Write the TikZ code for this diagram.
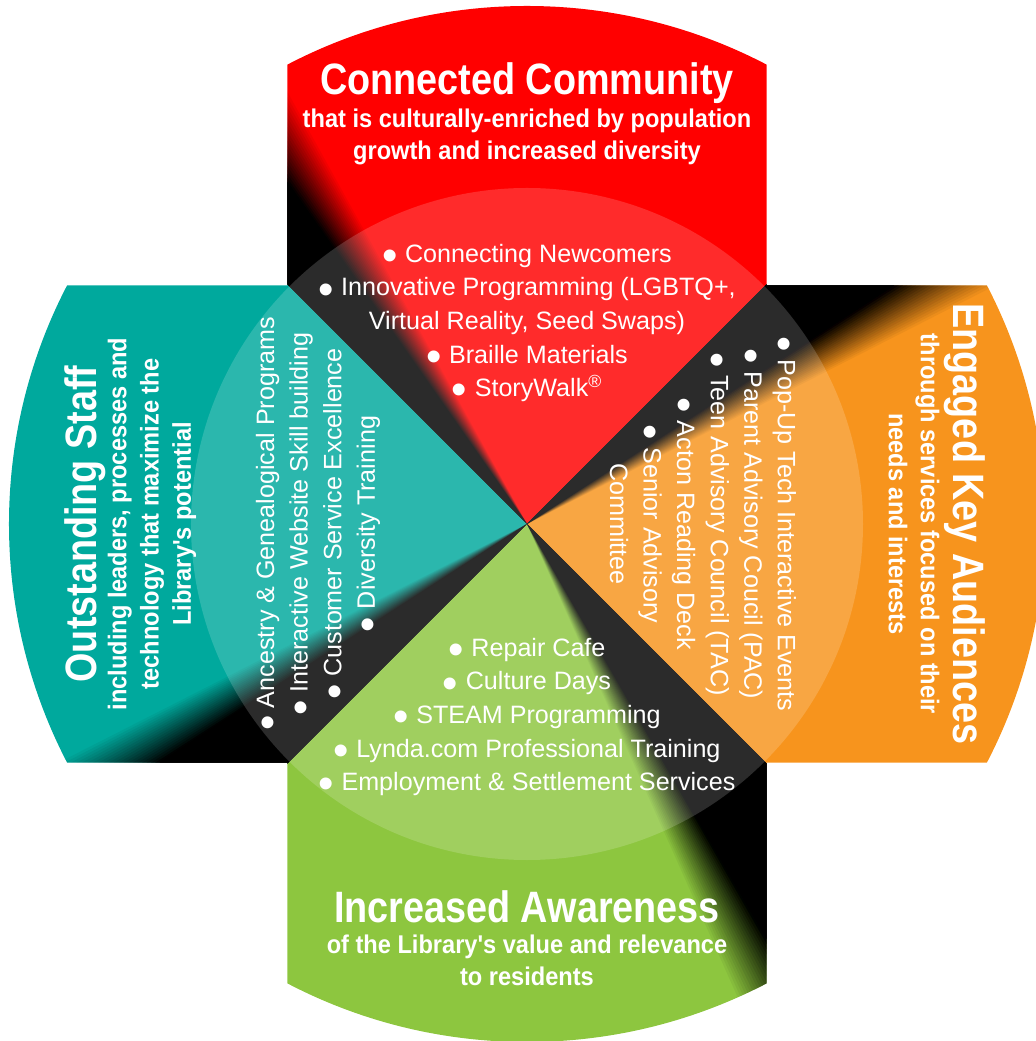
\documentclass[tikz,border=0pt]{standalone}
\usepackage{fontspec}
\setmainfont{Liberation Sans}
\newfontfamily\headfont{Liberation Sans}[FakeStretch=0.86]
\newfontfamily\subfont{Liberation Sans}[FakeStretch=0.92]
\newcommand\dotitem{\raisebox{-4.6pt}[0pt][0pt]{\fontsize{25}{25}\selectfont\textbullet}\hspace{0.3em}}
\definecolor{ccred}{HTML}{FF0000}
\definecolor{kaorange}{HTML}{F7941D}
\definecolor{iagreen}{HTML}{8DC63F}
\definecolor{osteal}{HTML}{00A99D}
\begin{document}
\begin{tikzpicture}[
  head/.style={text=white,font=\headfont\bfseries\fontsize{25}{28}\selectfont},
  subhead/.style={text=white,align=center,font=\subfont\bfseries\fontsize{14.6}{18.3}\selectfont},
  items/.style={text=white,align=center,font=\fontsize{14.3}{19.1}\selectfont}
]
\useasboundingbox (-10.54,-10.34) rectangle (10.16,10.48);
\begin{scope}
  \clip (0,0) circle (10.36);
  \clip (-4.79,-11) rectangle (4.79,11) (-11,-4.77) rectangle (11,4.77);
  \foreach \a/\c in {90/ccred,180/osteal,270/iagreen,0/kaorange}
    \fill[\c] (0,0) -- (\a-45:16) -- (\a+45:16) -- cycle;
  \foreach \d/\m in {45/30,135/122,225/210,315/297}{
    \fill[black] (0,0) -- (\m+3:16) -- (\d:16) -- cycle;
    \foreach \k [evaluate=\k as \op using {1/(\k+1)}] in {1,...,20}
      \fill[black,opacity=\op] (0,0) -- (\m+3-0.3*\k:16) -- (\d:16) -- cycle;
  }
  \fill[white,opacity=0.17] (0,0) circle (6.72);
\end{scope}

\node[head] (cctitle) at (0,8.82) {Connected Community};
\node[subhead] (ccsub) at (0,7.74) {that is culturally-enriched by population\\growth and increased diversity};
\node[items] (ccitems) at (0,4.02) {\dotitem Connecting Newcomers\\
  \dotitem Innovative Programming (LGBTQ+,\\ Virtual Reality, Seed Swaps)\\
  \dotitem Braille Materials\\ \dotitem StoryWalk\textsuperscript{\textregistered}};

\node[head,rotate=-90] (katitle) at (8.76,0) {Engaged Key Audiences};
\node[subhead,rotate=-90] (kasub) at (7.74,0) {through services focused on their\\needs and interests};
\node[items,rotate=-90] (kaitems) at (3.52,0) {\dotitem Pop-Up Tech Interactive Events\\
  \dotitem Parent Advisory Coucil (PAC)\\ \dotitem Teen Advisory Council (TAC)\\
  \dotitem Acton Reading Deck\\ \dotitem Senior Advisory\\ Committee};

\node[head] (iatitle) at (0,-7.66) {Increased Awareness};
\node[subhead] (iasub) at (0,-8.72) {of the Library's value and relevance\\to residents};
\node[items] (iaitems) at (0,-3.86) {\dotitem Repair Cafe\\ \dotitem Culture Days\\
  \dotitem STEAM Programming\\ \dotitem Lynda.com Professional Training\\
  \dotitem Employment \& Settlement Services};

\node[head,rotate=90] (ostitle) at (-8.84,0) {Outstanding Staff};
\node[subhead,rotate=90] (ossub) at (-7.5,0) {including leaders, processes and\\technology that maximize the\\Library's potential};
\node[items,rotate=90] (ositems) at (-4.18,0) {\dotitem Ancestry \& Genealogical Programs\\
  \dotitem Interactive Website Skill building\\ \dotitem Customer Service Excellence\\
  \dotitem Diversity Training};
\end{tikzpicture}
\end{document}
